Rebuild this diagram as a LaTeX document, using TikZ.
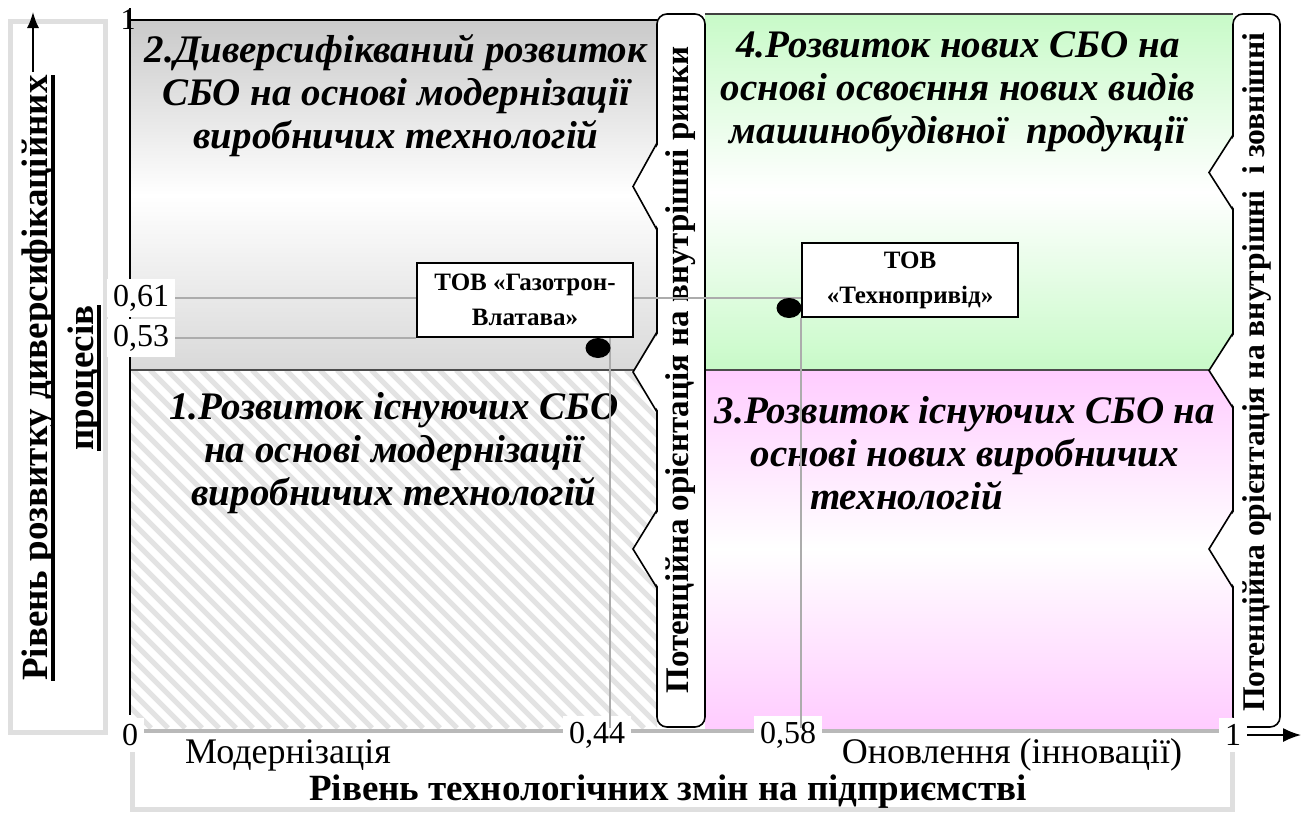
\documentclass[tikz,border=0pt]{standalone}
\usepackage{fontspec}
\setmainfont{Liberation Serif}
\usetikzlibrary{arrows.meta,shapes.geometric}

\definecolor{lightgreen}{RGB}{200,250,200}
\definecolor{lightpink}{RGB}{255,204,255}

\newcommand{\thickul}[1]{\setbox0\hbox{#1}\rlap{\rule[-3.5pt]{\wd0}{1.8pt}}\box0}

\tikzset{
  quadtitle/.style={align=center, font=\fontsize{19.5}{21.5}\selectfont\bfseries\itshape},
  bandtext/.style={rotate=90, font=\fontsize{16.5}{18}\selectfont\bfseries},
  band/.style={draw, fill=white, line width=0.8pt, rounded corners=5pt},
  notch/.style={draw, line width=0.8pt},
  ticklabel/.style={fill=white, inner sep=3pt, font=\fontsize{16}{18}\selectfont},
  scalelabel/.style={font=\fontsize{18}{20}\selectfont},
  axistitle/.style={font=\fontsize{18.5}{23}\selectfont\bfseries, align=center},
  firmbox/.style={draw, fill=white, line width=0.8pt, align=center, minimum width=108pt, minimum height=37pt, inner sep=2pt, font=\fontsize{12.5}{17.5}\selectfont\bfseries},
  firmdot/.style={ellipse, fill=black, minimum width=12.5pt, minimum height=10pt, inner sep=0pt},
  guide/.style={gray!65, line width=0.8pt},
  hatch/.style={gray!22, line width=2.5pt},
  frame/.style={draw=gray!25, line width=2.5pt, fill=white},
}

\begin{document}
\begin{tikzpicture}[x=0.5pt,y=0.5pt]
\useasboundingbox (0,0) rectangle (1304,-814);
% frames of the axis titles
\draw[frame] (10,-21) rectangle (105,-732);
\draw[frame] (132,-700) rectangle (1232,-809);

% quadrants
\shade[top color=gray!42, bottom color=gray!30, middle color=white] (130,-20) rectangle (657,-370);
\fill[white] (130,-370) rectangle (657,-728);
\begin{scope}
  \clip (130,-370) rectangle (657,-728);
  \foreach \s in {-360,-343,...,660}
    \draw[hatch] (\s,-370) -- ++(358,-358);
\end{scope}
\shade[top color=lightgreen, bottom color=lightgreen, middle color=white] (705,-14) rectangle (1233,-370);
\shade[top color=lightpink, bottom color=lightpink, middle color=white] (705,-370) rectangle (1233,-728);

\draw[line width=0.8pt] (130,-20) -- (657,-20);
\draw[gray!50!black, line width=0.8pt] (705,-14) -- (1233,-14);
\draw[gray!60!black, line width=1pt] (130,-370) -- (657,-370) (705,-370) -- (1233,-370);
\draw[gray!55, line width=1.8pt] (130,-731) -- (1233,-731);
\draw[line width=0.8pt] (130,-8) -- (130,-715);

% bands with notches
\draw[band] (657,-14) rectangle (705,-727);
\draw[band] (1233,-14) rectangle (1280,-727);
\foreach \xb/\ya/\yb in {657/143/230, 657/332/412, 657/510/588, 1233/135/210, 1233/333/408, 1233/510/588} {
  \fill[white] (\xb+2,-\ya) -- (\xb-24,{-(\ya+\yb)/2}) -- (\xb+2,-\yb) -- cycle;
  \draw[notch] (\xb,-\ya) -- (\xb-24,{-(\ya+\yb)/2}) -- (\xb,-\yb);
}
\node[bandtext] (inner) at (681,-370) {Потенційна орієнтація на внутрішні ринки};
\node[bandtext, font=\fontsize{15.8}{18}\selectfont\bfseries] (outer) at (1257,-372) {Потенційна орієнтація на внутрішні \ і зовнішні};

% quadrant titles
\node[quadtitle] (q2) at (396,-96) {2.Диверсифікваний розвиток\\СБО на основі модернізації\\виробничих технологій};
\node[quadtitle] (q1) at (394,-453) {1.Розвиток існуючих СБО\\на основі модернізації\\виробничих технологій};
\node[quadtitle] (q4) at (958,-92) {4.Розвиток нових СБО на\\основі освоєння нових видів\\машинобудівної \ продукції};
\node[quadtitle] (q3) at (965,-453) {3.Розвиток існуючих СБО на\\основі нових виробничих\\технологій\hspace*{3em}};

% axes
\node[axistitle, rotate=90] (ytitle) at (62,-378) {\thickul{Рівень розвитку диверсифікаційних}\\\thickul{процесів}};
\coordinate (ybase) at (33,-72);
\coordinate (ytip) at (33,-12);
\draw[-{Latex[length=8pt,width=6pt]}, line width=0.8pt] (ybase) -- (ytip);
\node[font=\fontsize{15}{17}\selectfont] (yone) at (128,-20) {1};

\node[ticklabel] (y61) at (141,-298) {0,61};
\node[ticklabel] (y53) at (141,-338) {0,53};
\node[ticklabel] (x0) at (130,-735) {0};
\node[ticklabel] (x44) at (597,-735) {0,44};
\node[ticklabel] (x58) at (788,-735) {0,58};
\node[ticklabel] (x1) at (1233,-735) {1};
\coordinate (xtip) at (1301,-735);
\draw[-{Latex[length=9pt,width=7pt]}, line width=0.8pt] (x1.east) -- (xtip);

\node[scalelabel] (modern) at (288,-755) {Модернізація};
\node[scalelabel] (innov) at (1012,-755) {Оновлення (інновації)};
\node[axistitle] (xtitle) at (668,-792) {Рівень технологічних змін на підприємстві};

% firms
\node[firmbox] (gazotron) at (525,-300) {ТОВ «Газотрон-\\Влатава»};
\node[firmbox] (tekhno) at (910,-280) {ТОВ\\«Технопривід»};
\coordinate (gazfoot) at (610,-728);
\draw[guide] (y61.east) -- (y61.east -| gazotron.west);
\draw[guide] (y61.east -| gazotron.east) -- (y61.east -| tekhno.west);
\draw[guide] (y53.east) -- (y53.east -| gazotron.west);
\draw[guide] (gazfoot |- gazotron.south) -- (gazfoot);
\draw[guide] (tekhno.south west) -- (tekhno.south west |- gazfoot);
\node[firmdot] (gazdot) at (598,-348) {};
\node[firmdot] (tekdot) at (789,-308) {};
\end{tikzpicture}
\end{document}
